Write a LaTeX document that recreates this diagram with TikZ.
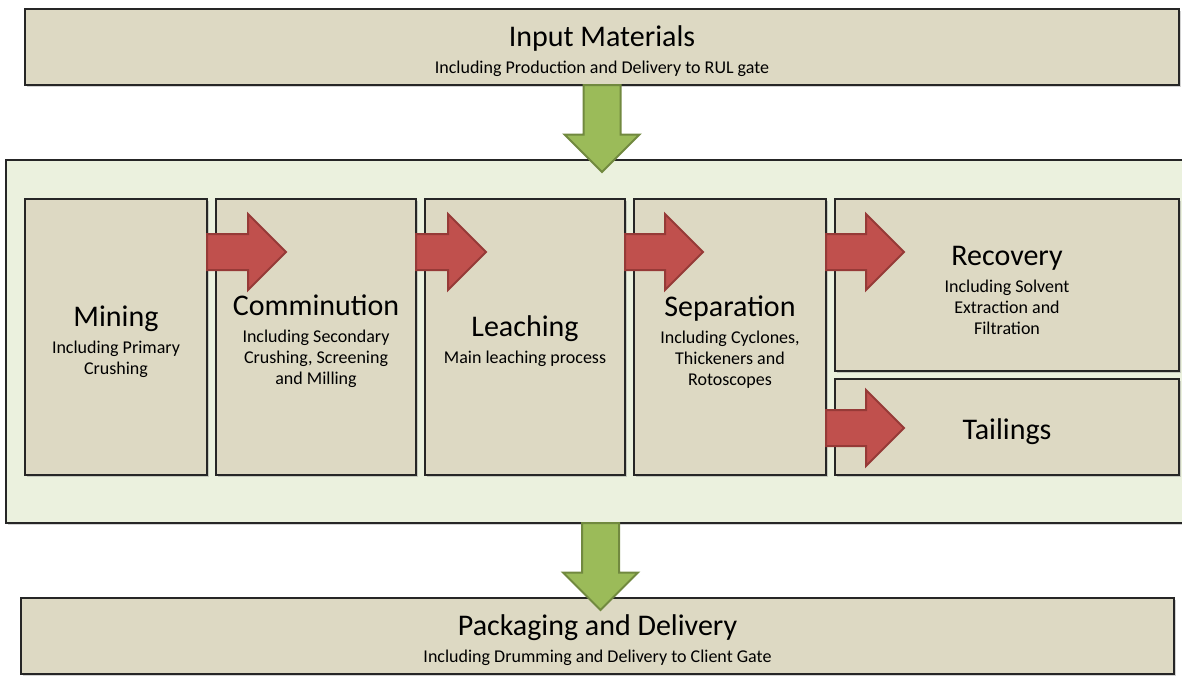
\documentclass[tikz,border=0pt]{standalone}
\usepackage{fontspec}
\setmainfont{Carlito}
\usetikzlibrary{positioning}
\usetikzlibrary{shapes.arrows,shadows}

\definecolor{boxfill}{HTML}{DDD9C3}
\definecolor{panelfill}{HTML}{EBF1DE}
\definecolor{boxline}{HTML}{262626}
\definecolor{flowred}{HTML}{C0504D}
\definecolor{flowredline}{HTML}{963A37}
\definecolor{flowgreen}{HTML}{9BBB59}
\definecolor{flowgreenline}{HTML}{71893F}

\newcommand{\stagename}[1]{{\fontsize{30}{36}\selectfont\rule{0pt}{30pt}#1}}

\tikzset{
  stage/.style={draw=boxline, line width=1.2pt, fill=boxfill, align=center,
    inner sep=0pt, outer sep=0pt, font=\fontsize{18}{21}\selectfont,
    drop shadow={shadow xshift=1.5pt, shadow yshift=-2pt, opacity=.35}},
  panel/.style={stage, fill=panelfill},
  redarrow/.style={single arrow, draw=flowredline, line width=2pt, fill=flowred,
    single arrow head extend=20pt, single arrow tip angle=90,
    inner xsep=0pt, inner ysep=17pt, outer sep=0pt, anchor=tail},
  greenarrow/.style={redarrow, draw=flowgreenline, fill=flowgreen,
    shape border rotate=270, single arrow head extend=19pt,
    inner xsep=17.5pt, inner ysep=0pt}
}

\begin{document}
\begin{tikzpicture}[x=1pt,y=-1pt]

\useasboundingbox (0,0) rectangle (1182,675);
\clip (0,0) rectangle (1182,675);

\node[stage, minimum width=1154pt, minimum height=76pt] (input) at (602,47)
  {\stagename{Input Materials}\\[6pt] Including Production and Delivery to RUL gate};

\node[panel, minimum width=1189pt, minimum height=363pt] (plant) at (600.5,341.5) {};

\node[stage, minimum width=1153pt, minimum height=76pt] (delivery) at (597.5,636)
  {\stagename{Packaging and Delivery}\\[6pt] Including Drumming and Delivery to Client Gate};

% process stages inside the plant
\node[stage, minimum width=182pt, minimum height=276pt] (mining) at (116,337)
  {\stagename{Mining}\\[6pt] Including Primary\\ Crushing};
\node[stage, minimum width=200pt, minimum height=276pt, right=9pt of mining] (comminution)
  {\stagename{Comminution}\\[6pt] Including Secondary\\ Crushing, Screening\\ and Milling};
\node[stage, minimum width=200pt, minimum height=276pt, right=9pt of comminution] (leaching)
  {\stagename{Leaching}\\[6pt] Main leaching process};
\node[stage, minimum width=192pt, minimum height=276pt, right=9pt of leaching] (separation)
  {\stagename{Separation}\\[6pt] Including Cyclones,\\ Thickeners and\\ Rotoscopes};
\node[stage, minimum width=344pt, minimum height=172pt, right=9pt of separation.north east, anchor=north west] (recovery)
  {\stagename{Recovery}\\[6pt] Including Solvent\\ Extraction and\\ Filtration};
\node[stage, minimum width=344pt, minimum height=96pt, below=8pt of recovery] (tailings)
  {\stagename{Tailings}};

\coordinate (row1) at (0,252);
\coordinate (row2) at (0,428);

% flow between stages
\node[redarrow, minimum height=79pt] (m2c) at (mining.east |- row1) {};
\node[redarrow, minimum height=70pt] (c2l) at (comminution.east |- row1) {};
\node[redarrow, minimum height=78pt] (l2s) at (leaching.east |- row1) {};
\node[redarrow, minimum height=78pt] (s2r) at (separation.east |- row1) {};
\node[redarrow, minimum height=78pt] (s2t) at (separation.east |- row2) {};

% in and out of the plant
\node[greenarrow, minimum height=87pt] (in) at (input.south) {};
\node[greenarrow, minimum height=87pt] (out) at (plant.south) {};

\end{tikzpicture}
\end{document}
